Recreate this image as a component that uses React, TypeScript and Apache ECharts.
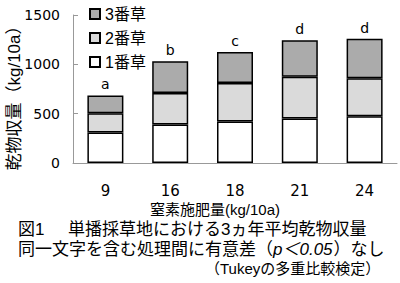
import React, { useEffect, useRef } from "react";
import * as echarts from "echarts";

const categories = ["9", "16", "18", "21", "24"];
const cut1 = [310, 390, 420, 450, 475];
const cut2 = [195, 320, 390, 425, 385];
const cut3 = [180, 320, 315, 370, 400];
const letters = ["a", "b", "c", "d", "d"];
const yTicks = { min: 0, max: 1500, interval: 500 };

const JP = '"Liberation Sans", "Noto Sans CJK JP", sans-serif';
const NUM = '"DejaVu Sans", sans-serif';

function measure(text: string, font: string): number {
  const c = document.createElement("canvas");
  const ctx = c.getContext("2d");
  if (!ctx) return text.length * 16;
  ctx.font = font;
  return ctx.measureText(text).width;
}

export default function App() {
  const ref = useRef<HTMLDivElement>(null);
  useEffect(() => {
    if (!ref.current) return;
    const chart = echarts.init(ref.current, undefined, { renderer: "svg" });
    const border = { borderColor: "#000", borderWidth: 1.5 };

    const capFont = `17px ${JP}`;
    const capItal = `italic 17px ${JP}`;
    const l2a = "同一文字を含む処理間に有意差（";
    const l2b = "p＜0.05";
    const l2c = "）なし";
    const x2a = 18;
    const x2b = x2a + measure(l2a, capFont);
    const x2c = x2b + measure(l2b, capItal) + 1;

    const txt = (
      x: number,
      y: number,
      text: string,
      font: string,
      size: number,
      align = "left",
      extra: any = {}
    ) => ({
      type: "text",
      x,
      y,
      ...extra,
      style: { text, font, fill: "#000", align, verticalAlign: "middle", lineHeight: size },
    });

    chart.setOption({
      animation: false,
      backgroundColor: "#fff",
      grid: { left: 73, right: 3, top: 15, bottom: 120 },
      legend: {
        orient: "vertical",
        left: 84,
        top: 1,
        itemWidth: 10,
        itemHeight: 10,
        itemGap: 8,
        icon: "rect",
        data: ["3番草", "2番草", "1番草"],
        textStyle: { fontFamily: JP, fontSize: 16, color: "#000" },
      },
      xAxis: {
        type: "category",
        data: categories,
        axisLine: { lineStyle: { color: "#999", width: 1 } },
        axisTick: { inside: true, length: 5, lineStyle: { color: "#999" } },
        axisLabel: { fontFamily: NUM, fontSize: 15, color: "#000", margin: 20 },
      },
      yAxis: {
        type: "value",
        min: yTicks.min,
        max: yTicks.max,
        interval: yTicks.interval,
        splitLine: { show: false },
        axisLine: { show: true, lineStyle: { color: "#999", width: 1 } },
        axisTick: { show: true, inside: true, length: 5, lineStyle: { color: "#999" } },
        axisLabel: {
          fontFamily: NUM,
          fontSize: 14,
          color: "#000",
          margin: 13,
          formatter: (v: number) => String(v),
        },
      },
      series: [
        {
          name: "1番草",
          type: "bar",
          stack: "t",
          barWidth: 36,
          data: cut1,
          itemStyle: { color: "#ffffff", ...border },
        },
        {
          name: "2番草",
          type: "bar",
          stack: "t",
          barWidth: 36,
          data: cut2,
          itemStyle: { color: "#dadada", ...border },
        },
        {
          name: "3番草",
          type: "bar",
          stack: "t",
          barWidth: 36,
          data: cut3,
          itemStyle: { color: "#ababab", ...border },
          label: {
            show: true,
            position: "top",
            distance: 4,
            fontFamily: NUM,
            fontSize: 14,
            color: "#000",
            formatter: (p: any) => letters[p.dataIndex],
          },
        },
      ],
      graphic: [
        txt(14, 94, "乾物収量（kg/10a）", `17px ${JP}`, 17, "center", { rotation: Math.PI / 2 }),
        txt(215, 209, "窒素施肥量(kg/10a)", `15px ${JP}`, 15, "center"),
        txt(18, 229, "図1", capFont, 17),
        txt(68, 229, "単播採草地における3ヵ年平均乾物収量", capFont, 17),
        txt(x2a, 249, l2a, capFont, 17),
        txt(x2b, 249, l2b, capItal, 17),
        txt(x2c, 249, l2c, capFont, 17),
        txt(205, 268, "（Tukeyの多重比較検定）", `15px ${JP}`, 15),
      ],
    });
    return () => chart.dispose();
  }, []);
  return (
    <div
      ref={ref}
      style={{ position: "fixed", left: 0, top: 0, width: 400, height: 283 }}
    />
  );
}
